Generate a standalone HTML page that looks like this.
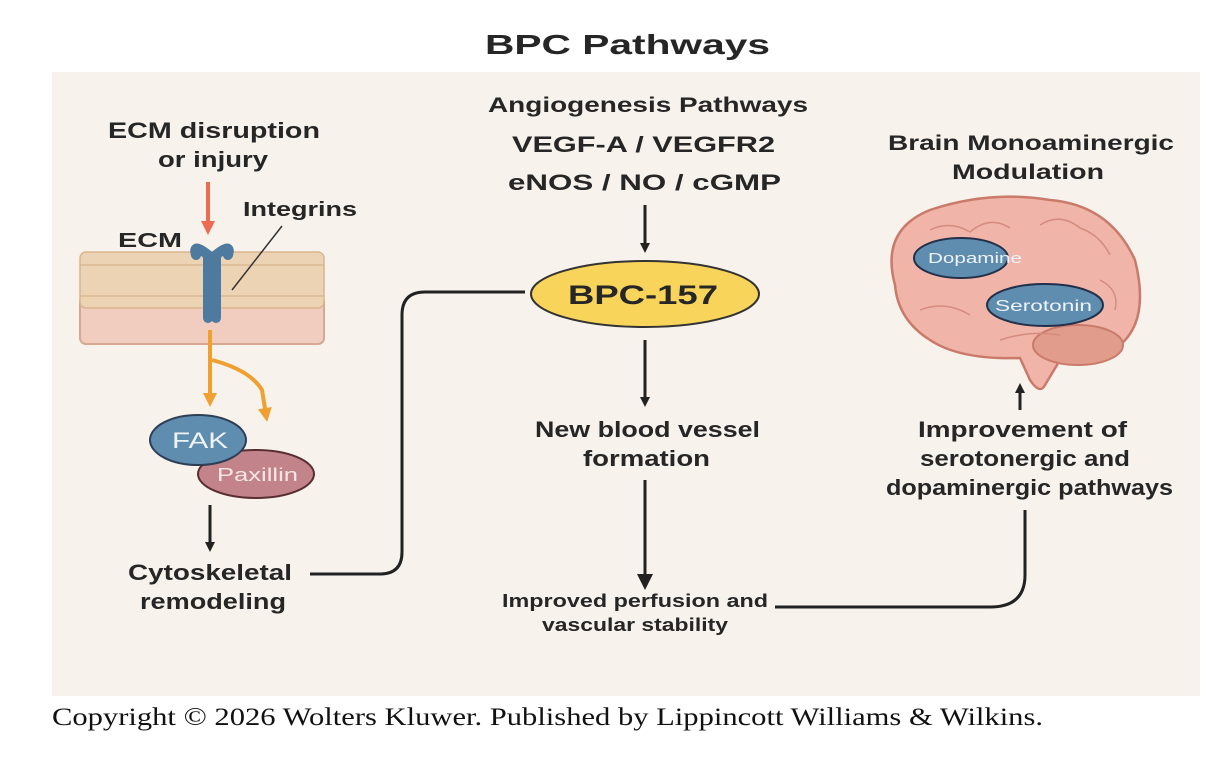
<!DOCTYPE html>
<html><head><meta charset="utf-8"><style>
html,body{margin:0;padding:0;background:#fff;width:1230px;height:760px;overflow:hidden}
svg{display:block}
text{font-family:"Liberation Sans",sans-serif;font-weight:bold;fill:#262626}
</style></head><body>
<svg width="1230" height="760" viewBox="0 0 1230 760" xmlns="http://www.w3.org/2000/svg">
<defs>
<marker id="ak" markerWidth="10" markerHeight="10" refX="5" refY="5" orient="auto" markerUnits="userSpaceOnUse"><path d="M0,0 L10,5 L0,10 z" fill="#222"/></marker>
<marker id="ao" markerWidth="14" markerHeight="14" refX="7" refY="7" orient="auto" markerUnits="userSpaceOnUse"><path d="M0,0 L14,7 L0,14 z" fill="#f0a030"/></marker>
<marker id="ar" markerWidth="14" markerHeight="14" refX="7" refY="7" orient="auto" markerUnits="userSpaceOnUse"><path d="M0,0 L14,7 L0,14 z" fill="#ee6a50"/></marker>
<marker id="ab" markerWidth="16" markerHeight="16" refX="8" refY="8" orient="auto" markerUnits="userSpaceOnUse"><path d="M0,0 L16,8 L0,16 z" fill="#222"/></marker>
</defs>
<rect x="52" y="72" width="1148" height="624" fill="#f7f3ec"/>
<text x="485" y="54" font-size="28" fill="#222" textLength="285" lengthAdjust="spacingAndGlyphs">BPC Pathways</text>

<!-- left -->
<text x="108" y="138" font-size="22" textLength="212" lengthAdjust="spacingAndGlyphs">ECM disruption</text>
<text x="158" y="167" font-size="22" textLength="110" lengthAdjust="spacingAndGlyphs">or injury</text>
<line x1="208" y1="182" x2="208" y2="228" stroke="#ee6a50" stroke-width="4" marker-end="url(#ar)"/>
<text x="243" y="216" font-size="20" textLength="114" lengthAdjust="spacingAndGlyphs">Integrins</text>
<text x="118" y="247" font-size="20" textLength="64" lengthAdjust="spacingAndGlyphs">ECM</text>
<rect x="80" y="296" width="244" height="48" rx="6" fill="#f0cdbf" stroke="#d6a792" stroke-width="2"/>
<rect x="80" y="252" width="244" height="56" rx="6" fill="#ecd3b3" stroke="#d9b58e" stroke-width="1.5"/>
<g stroke="#d2ad84" stroke-width="1">
<line x1="80" y1="265" x2="324" y2="265"/><line x1="80" y1="296" x2="324" y2="296"/>
</g>
<path d="M208,318 L208,255 Q192,242 196,255 M216,318 L216,255 Q232,242 228,255" stroke="#4d7a9e" stroke-width="10" fill="none" stroke-linecap="round"/>
<line x1="232" y1="290" x2="282" y2="226" stroke="#333" stroke-width="1.5"/>
<line x1="210" y1="330" x2="210" y2="400" stroke="#f0a030" stroke-width="4" marker-end="url(#ao)"/>
<path d="M212,360 Q250,370 262,390 L266,415" stroke="#f0a030" stroke-width="4" fill="none" marker-end="url(#ao)"/>
<ellipse cx="256" cy="474" rx="58" ry="24" fill="#c2848a" stroke="#5a2d33" stroke-width="2"/>
<text x="217" y="481" font-size="18" fill="#f5e6e6" style="fill:#f5e6e6;font-weight:normal" textLength="81" lengthAdjust="spacingAndGlyphs">Paxillin</text>
<ellipse cx="198" cy="440" rx="48" ry="25" fill="#5f8db0" stroke="#2e3f55" stroke-width="2"/>
<text x="172" y="448" font-size="22" style="fill:#eef3f8;font-weight:normal" textLength="56" lengthAdjust="spacingAndGlyphs">FAK</text>
<line x1="210" y1="505" x2="210" y2="547" stroke="#222" stroke-width="3" marker-end="url(#ak)"/>
<text x="128" y="580" font-size="22" textLength="164" lengthAdjust="spacingAndGlyphs">Cytoskeletal</text>
<text x="140" y="609" font-size="22" textLength="146" lengthAdjust="spacingAndGlyphs">remodeling</text>
<path d="M310,574 L380,574 Q402,574 402,552 L402,315 Q402,292 425,292 L525,292" stroke="#222" stroke-width="3" fill="none"/>

<!-- middle -->
<text x="488" y="112" font-size="21" textLength="320" lengthAdjust="spacingAndGlyphs">Angiogenesis Pathways</text>
<text x="512" y="152" font-size="22" textLength="263" lengthAdjust="spacingAndGlyphs">VEGF-A / VEGFR2</text>
<text x="508" y="190" font-size="22" textLength="273" lengthAdjust="spacingAndGlyphs">eNOS / NO / cGMP</text>
<line x1="645" y1="205" x2="645" y2="248" stroke="#222" stroke-width="3" marker-end="url(#ak)"/>
<ellipse cx="645" cy="294" rx="114" ry="33" fill="#f8d55a" stroke="#333" stroke-width="2"/>
<text x="568" y="304" font-size="27" textLength="150" lengthAdjust="spacingAndGlyphs">BPC-157</text>
<line x1="645" y1="340" x2="645" y2="402" stroke="#222" stroke-width="3" marker-end="url(#ak)"/>
<text x="535" y="437" font-size="22" textLength="225" lengthAdjust="spacingAndGlyphs">New blood vessel</text>
<text x="583" y="466" font-size="22" textLength="127" lengthAdjust="spacingAndGlyphs">formation</text>
<line x1="645" y1="480" x2="645" y2="582" stroke="#222" stroke-width="3" marker-end="url(#ab)"/>
<text x="502" y="607" font-size="18" textLength="266" lengthAdjust="spacingAndGlyphs">Improved perfusion and</text>
<text x="542" y="631" font-size="18" textLength="186" lengthAdjust="spacingAndGlyphs">vascular stability</text>
<path d="M775,607 L990,607 Q1025,607 1025,575 L1025,510" stroke="#222" stroke-width="3" fill="none"/>

<!-- right -->
<text x="888" y="150" font-size="21" textLength="286" lengthAdjust="spacingAndGlyphs">Brain Monoaminergic</text>
<text x="952" y="179" font-size="21" textLength="152" lengthAdjust="spacingAndGlyphs">Modulation</text>
<path d="M895,285 Q880,230 930,210 Q990,190 1050,200 Q1110,205 1135,260 Q1150,320 1120,345 Q1095,365 1060,360 L1045,385 Q1040,395 1030,380 L1020,358 Q960,360 930,340 Q898,320 895,285 z" fill="#f0b4a8" stroke="#c97a6b" stroke-width="2.5"/>
<ellipse cx="1078" cy="345" rx="45" ry="20" fill="#e29c8c" stroke="#c97a6b" stroke-width="2"/>
<g stroke="#d48c7e" stroke-width="1.5" fill="none">
<path d="M930,230 Q950,220 970,232 Q990,215 1010,228"/><path d="M1040,225 Q1060,212 1080,228 Q1100,235 1110,255"/>
<path d="M1100,280 Q1120,290 1115,310"/><path d="M920,310 Q945,300 970,315"/><path d="M1000,340 Q1030,330 1060,335"/>
</g>
<ellipse cx="961" cy="258" rx="47" ry="20" fill="#5f8db0" stroke="#23304a" stroke-width="2"/>
<text x="928" y="263" font-size="15" style="fill:#eef3f8;font-weight:normal" textLength="94" lengthAdjust="spacingAndGlyphs">Dopamine</text>
<ellipse cx="1045" cy="305" rx="58" ry="21" fill="#5f8db0" stroke="#23304a" stroke-width="2"/>
<text x="995" y="311" font-size="16" style="fill:#eef3f8;font-weight:normal" textLength="97" lengthAdjust="spacingAndGlyphs">Serotonin</text>
<line x1="1020" y1="410" x2="1020" y2="388" stroke="#222" stroke-width="3" marker-end="url(#ak)"/>
<text x="918" y="437" font-size="22" textLength="209" lengthAdjust="spacingAndGlyphs">Improvement of</text>
<text x="920" y="466" font-size="22" textLength="210" lengthAdjust="spacingAndGlyphs">serotonergic and</text>
<text x="886" y="495" font-size="22" textLength="287" lengthAdjust="spacingAndGlyphs">dopaminergic pathways</text>

<text x="52" y="725" font-size="25" style="font-family:'Liberation Serif',serif;font-weight:normal;fill:#111" textLength="991" lengthAdjust="spacingAndGlyphs">Copyright © 2026 Wolters Kluwer. Published by Lippincott Williams &amp; Wilkins.</text>
</svg>
</body></html>
